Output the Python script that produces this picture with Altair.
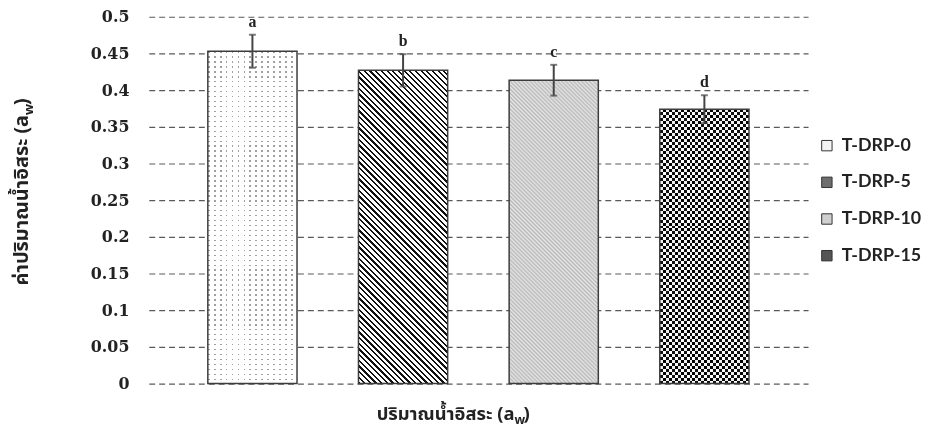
import altair as alt
import pandas as pd

# ---------------- data ----------------
series = ["T-DRP-0", "T-DRP-5", "T-DRP-10", "T-DRP-15"]
values = [0.453, 0.427, 0.4135, 0.374]
errors = [0.0225, 0.022, 0.021, 0.019]
letters = ["a", "b", "c", "d"]
y_ticks = [0, 0.05, 0.1, 0.15, 0.2, 0.25, 0.3, 0.35, 0.4, 0.45, 0.5]
legend_tones = ["#f4f4f4", "#6e6e6e", "#cfcfcf", "#555555"]

y_title_main = "ค่าปริมาณน้ำอิสระ (a"
x_title_main = "ปริมาณน้ำอิสระ (a"
sub_w = "w"
close_paren = ")"

# ---------------- layout / style ----------------
PLOT_W, PLOT_H, Y_MAX = 665, 370, 0.5
PAD_IN, PAD_OUT = 0.408, 0.392
STEP = PLOT_W / (len(series) - PAD_IN + 2 * PAD_OUT)
BAR_W = STEP * (1 - PAD_IN)
THAI_FONT = "Noto Sans Thai, Noto Sans Thai UI, Loma, Garuda, Tlwg Typo, sans-serif"

df = pd.DataFrame({
    "series": series,
    "value": values,
    "lo": [v - e for v, e in zip(values, errors)],
    "hi": [v + e for v, e in zip(values, errors)],
    "letter": letters,
})


def periodic_stops(n, parts):
    stops = []
    for i in range(n):
        pos = i / n
        for w, c in parts:
            end = pos + w / n
            stops.append({"offset": round(pos, 6), "color": c})
            stops.append({"offset": round(min(end, 1.0), 6), "color": c})
            pos = end
    return stops


def soft_stops(n, c1, c2):
    stops = []
    for i in range(n):
        stops.append({"offset": round(i / n, 6), "color": c1})
        stops.append({"offset": round((i + 0.5) / n, 6), "color": c2})
    stops.append({"offset": 1.0, "color": c1})
    return stops


def grad(x1, y1, x2, y2, stops):
    return {"gradient": "linear", "x1": x1, "y1": y1, "x2": x2, "y2": y2, "stops": stops}


def vertical_stripes(period, parts):
    n = max(1, round(BAR_W / period))
    return grad(0, 0, 1, 0, periodic_stops(n, parts))


def horizontal_stripes(h, period, parts):
    n = max(1, round(h / period))
    return grad(0, 0, 0, 1, periodic_stops(n, parts))


def diag_vector(h):
    r = h / BAR_W
    k = (1 + r) / (1 + r * r)
    return 0, 1, k, 1 - k * r


def back_diagonal(h, period_h, parts):
    # "\" stripes in pixel space, built in the bar's bounding-box space
    n = max(1, round((BAR_W + h) / period_h))
    return grad(*diag_vector(h), periodic_stops(n, parts))


def soft_back_diagonal(h, period_h, c1, c2):
    n = max(1, round((BAR_W + h) / period_h))
    return grad(*diag_vector(h), soft_stops(n, c1, c2))


heights = [v / Y_MAX * PLOT_H for v in values]
CLEAR = "rgba(255,255,255,0)"

Y_SCALE = alt.Scale(domain=[0, Y_MAX], nice=False, zero=True)
Y_AXIS = alt.Axis(values=y_ticks, format="~g", title=None, grid=True,
                  gridDash=[6, 4], gridColor="#5a5a5a", gridWidth=1.2,
                  domain=False, ticks=False, tickSize=0, labelPadding=20,
                  labelFont="DejaVu Serif", labelFontWeight="bold",
                  labelFontSize=16, labelColor="#222222", labelOverlap=False)

base = alt.Chart(df).encode(
    x=alt.X("series:N", sort=series,
            scale=alt.Scale(domain=series, paddingInner=PAD_IN, paddingOuter=PAD_OUT),
            axis=None),
    y=alt.Y("value:Q", scale=Y_SCALE, axis=Y_AXIS),
)


def one(i):
    return base.transform_filter(alt.datum.series == series[i])


layers = []
# T-DRP-0 : sparse grey dots on white
layers.append(one(0).mark_bar(fill=vertical_stripes(6, [(0.3, "#a0a0a0"), (0.7, "#ffffff")])))
layers.append(one(0).mark_bar(fill=horizontal_stripes(heights[0], 5, [(0.3, CLEAR), (0.7, "#ffffff")])))
# T-DRP-5 : black diagonal hatch
layers.append(one(1).mark_bar(fill=back_diagonal(heights[1], 5.7, [(0.38, "#111111"), (0.62, "#ffffff")])))
# T-DRP-10 : fine light grey texture
layers.append(one(2).mark_bar(fill=soft_back_diagonal(heights[2], 4.0, "#e6e6e6", "#b9b9b9")))
# T-DRP-15 : checkerboard (XOR of stripes through difference blending)
layers.append(one(3).mark_bar(fill=vertical_stripes(6, [(0.5, "#111111"), (0.5, "#ffffff")])))
layers.append(one(3).mark_bar(fill=horizontal_stripes(heights[3], 6, [(0.5, "#ffffff"), (0.5, CLEAR)]),
                              blend="difference"))
# outlines
layers.append(base.mark_bar(fill="transparent", stroke="#3c3c3c", strokeWidth=1.5))

# error bars
err_rule = base.mark_rule(color="#444444", strokeWidth=2).encode(
    y=alt.Y("lo:Q", scale=Y_SCALE, axis=Y_AXIS), y2="hi:Q")
cap_hi = base.mark_tick(color="#444444", thickness=2, size=7).encode(
    y=alt.Y("hi:Q", scale=Y_SCALE, axis=Y_AXIS))
cap_lo = base.mark_tick(color="#444444", thickness=2, size=7).encode(
    y=alt.Y("lo:Q", scale=Y_SCALE, axis=Y_AXIS))
lab = base.mark_text(font="Liberation Serif", fontWeight="bold", fontSize=16,
                     baseline="alphabetic", dy=-8, color="#222222").encode(
    y=alt.Y("hi:Q", scale=Y_SCALE, axis=Y_AXIS), text="letter:N")

# legend (invisible carrier layer)
legend_layer = base.mark_square(opacity=0).encode(
    fill=alt.Fill("series:N", sort=series,
                  scale=alt.Scale(domain=series, range=legend_tones),
                  legend=alt.Legend(title=None, orient="none", legendX=675, legendY=121,
                                    symbolType="square", symbolSize=110,
                                    symbolOpacity=1, symbolStrokeColor="#333333",
                                    symbolStrokeWidth=1, labelFont="Lato",
                                    labelFontWeight="bold", labelFontSize=18,
                                    labelColor="#222222", labelOffset=6,
                                    labelLimit=200,
                                    rowPadding=19, padding=0)))

# axis titles with subscript w
tdf = pd.DataFrame({"t": [0]})
INK = "#222222"
yt_main = alt.Chart(tdf).mark_text(text=y_title_main, font=THAI_FONT, fontWeight="bold",
                                   fontSize=20, angle=270, align="right", baseline="middle",
                                   color=INK).encode(x=alt.value(-128), y=alt.value(99))
yt_sub = alt.Chart(tdf).mark_text(text=sub_w, font=THAI_FONT, fontWeight="bold",
                                  fontSize=13, angle=270, align="left", baseline="middle",
                                  color=INK).encode(x=alt.value(-121), y=alt.value(99))
yt_close = alt.Chart(tdf).mark_text(text=close_paren, font=THAI_FONT, fontWeight="bold",
                                    fontSize=20, angle=270, align="left", baseline="middle",
                                    color=INK).encode(x=alt.value(-128), y=alt.value(89))
xt_main = alt.Chart(tdf).mark_text(text=x_title_main, font=THAI_FONT, fontWeight="bold",
                                   fontSize=18.5, align="right", baseline="middle",
                                   color=INK).encode(x=alt.value(369), y=alt.value(401))
xt_sub = alt.Chart(tdf).mark_text(text=sub_w, font=THAI_FONT, fontWeight="bold",
                                  fontSize=12.5, align="left", baseline="middle",
                                  color=INK).encode(x=alt.value(369), y=alt.value(407))
xt_close = alt.Chart(tdf).mark_text(text=close_paren, font=THAI_FONT, fontWeight="bold",
                                    fontSize=18.5, align="left", baseline="middle",
                                    color=INK).encode(x=alt.value(378), y=alt.value(401))

chart = alt.layer(
    *layers, err_rule, cap_hi, cap_lo, lab, legend_layer,
    yt_main, yt_sub, yt_close, xt_main, xt_sub, xt_close,
).properties(
    width=PLOT_W, height=PLOT_H,
    autosize=alt.AutoSizeParams(type="none"),
    padding={"left": 142, "top": 7, "right": 120, "bottom": 46},
    background="white",
).configure_view(stroke=None)

chart.save("out.html", embed_options={"renderer": "svg", "actions": False})
